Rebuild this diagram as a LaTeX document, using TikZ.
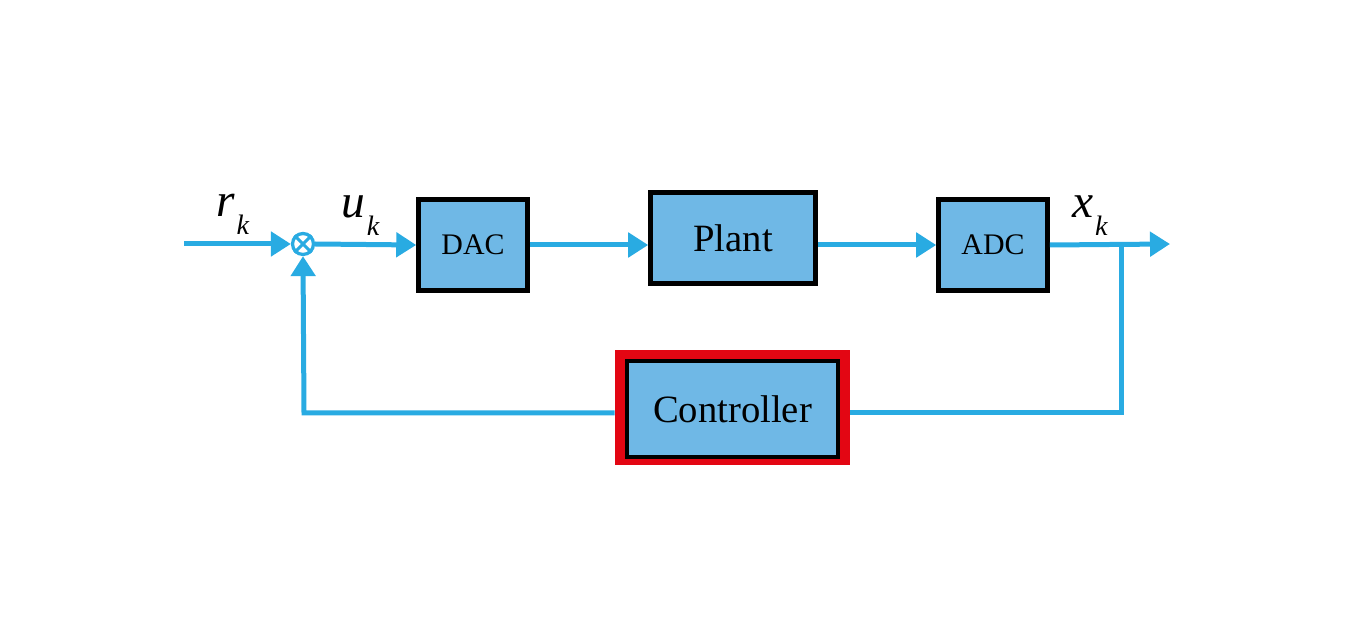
\documentclass[tikz,border=0pt]{standalone}
\usepackage{fontspec}
\setmainfont{Liberation Serif}
\usetikzlibrary{arrows.meta}
\definecolor{sigblue}{RGB}{41,171,226}
\definecolor{boxblue}{RGB}{111,184,230}
\definecolor{ctrlred}{RGB}{227,6,19}
% signal name with a low subscript k
\newcommand{\sigk}[1]{{\fontsize{27}{27}\selectfont\itshape #1}\kern1pt\raisebox{-10pt}{\fontsize{16}{16}\selectfont\itshape k}}
\begin{document}
\begin{tikzpicture}[x=0.02cm,y=-0.02cm,
  blk/.style={draw=black,line width=2.6pt,fill=boxblue,inner sep=0pt},
  wire/.style={draw=sigblue,line width=0.1cm},
  tip/.style={-{Triangle[length=0.4cm,width=0.48cm]}},
  lbl/.style={anchor=base west,inner sep=0pt}]
\useasboundingbox (0,0) rectangle (1355,624);

% forward path
\coordinate (in) at (184,244);
\node[circle,draw=sigblue,line width=0.065cm,fill=white,minimum size=0.42cm,inner sep=0pt] (sum) at (303,244) {};
\draw[sigblue,line width=0.06cm] (sum.north east) -- (sum.south west) (sum.north west) -- (sum.south east);
\node[blk,minimum width=2.18cm,minimum height=1.82cm,font=\fontsize{17}{17}\selectfont] (dac) at (473,245) {DAC};
\node[blk,minimum width=3.3cm,minimum height=1.82cm,font=\fontsize{22}{22}\selectfont] (plant) at (733,238) {Plant};
\node[blk,minimum width=2.18cm,minimum height=1.82cm,font=\fontsize{17}{17}\selectfont] (adc) at (993,245) {ADC};
\coordinate (branch) at (1121,244);
\coordinate (out) at (1170,244);

% feedback path
\node[fill=ctrlred,minimum width=4.7cm,minimum height=2.3cm,inner sep=0pt] (frame) at (732.5,407.5) {};
\node[blk,minimum width=4.22cm,minimum height=1.92cm,font=\fontsize{22}{22}\selectfont] (ctrl) at (732.5,409) {Controller};
\coordinate (fbr) at (1121,413);
\coordinate (fbl) at (304,413);

% wires
\draw[wire,tip] (in) -- (sum.west);
\draw[wire,tip] (sum.east) -- (dac.west);
\draw[wire,tip] (dac.east) -- (dac.east -| plant.west);
\draw[wire,tip] (plant.east |- adc.west) -- (adc.west);
\draw[wire,tip] (adc.east) -- (out);
\draw[wire] (branch) -- (fbr) -- (fbr -| frame.east);
\draw[wire,tip] (fbl -| frame.west) -- (fbl) -- (sum.south);

% labels
\node[lbl] (rk) at (216,217) {\sigk{r}};
\node[lbl] (uk) at (341,218) {\sigk{u}};
\node[lbl] (xk) at (1072,218) {\sigk{x}};
\end{tikzpicture}
\end{document}
